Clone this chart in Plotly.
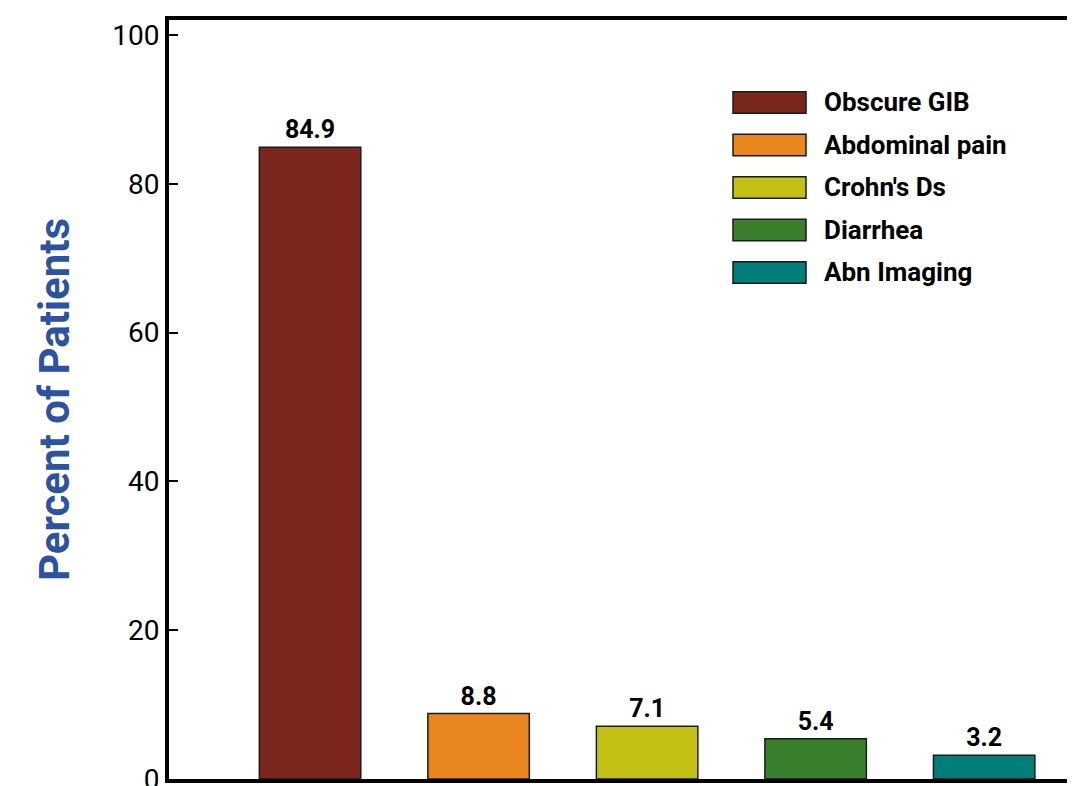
import plotly.graph_objects as go

categories = ["Obscure GIB", "Abdominal pain", "Crohn's Ds", "Diarrhea", "Abn Imaging"]
values = [84.9, 8.8, 7.1, 5.4, 3.2]
colors = ["#7B261C", "#EA861E", "#C3C214", "#3A7F2E", "#007E7A"]
y_ticks = [0, 20, 40, 60, 80, 100]

FONT = "Roboto, DejaVu Sans Condensed, sans-serif"

# page body has an 8px default margin; compensate so the plot area lands where intended
OFF = 8
PLOT_L, PLOT_T, PLOT_W, PLOT_H = 169, 20, 906, 759

fig = go.Figure()
fig.add_trace(go.Bar(
    x=categories,
    y=values,
    marker=dict(color=colors, line=dict(color="#1a1a1a", width=1.5)),
    width=0.602,
    text=[f"{v}" for v in values],
    textposition="outside",
    textfont=dict(family=FONT, size=25, color="black", weight="bold"),
    cliponaxis=False,
    showlegend=False,
))

# custom legend (large swatches)
lx0 = (733 - PLOT_L) / PLOT_W
lx1 = (806 - PLOT_L) / PLOT_W
tx = (822 - PLOT_L) / PLOT_W
row_top = 91.7
row_step = 42.5
box_h = 21.5
for i, (name, col) in enumerate(zip(categories, colors)):
    y_top_px = row_top + i * row_step
    y0 = 1 - (y_top_px + box_h - PLOT_T) / PLOT_H
    y1 = 1 - (y_top_px - PLOT_T) / PLOT_H
    fig.add_shape(type="rect", xref="paper", yref="paper",
                  x0=lx0, x1=lx1, y0=y0, y1=y1,
                  fillcolor=col, line=dict(color="#1a1a1a", width=1.5))
    fig.add_annotation(xref="paper", yref="paper", x=tx, y=(y0 + y1) / 2,
                       text=name, showarrow=False, xanchor="left", yanchor="middle",
                       font=dict(family=FONT, size=26, color="black", weight="bold"))

fig.update_layout(
    width=1075, height=786,
    margin=dict(l=PLOT_L - OFF, r=OFF, t=PLOT_T - OFF,
                b=786 - (PLOT_T - OFF) - PLOT_H, pad=0, autoexpand=False),
    paper_bgcolor="white", plot_bgcolor="white",
    xaxis=dict(
        range=[-0.837, 4.539],
        showticklabels=False, ticks="",
        showline=True, linecolor="black", linewidth=4, mirror=True,
        showgrid=False, zeroline=False, automargin=False,
    ),
    yaxis=dict(
        range=[0, 102],
        tickvals=y_ticks,
        ticks="inside", ticklen=9, tickwidth=2, tickcolor="black",
        tickfont=dict(family=FONT, size=28, color="black"),
        ticklabeloverflow="allow",
        showline=True, linecolor="black", linewidth=4,
        showgrid=False, zeroline=False, automargin=False,
        title=dict(text="Percent of Patients", standoff=30,
                   font=dict(family=FONT, size=42, color="#2B52A3", weight="bold")),
    ),
)

fig.write_html("out.html")
